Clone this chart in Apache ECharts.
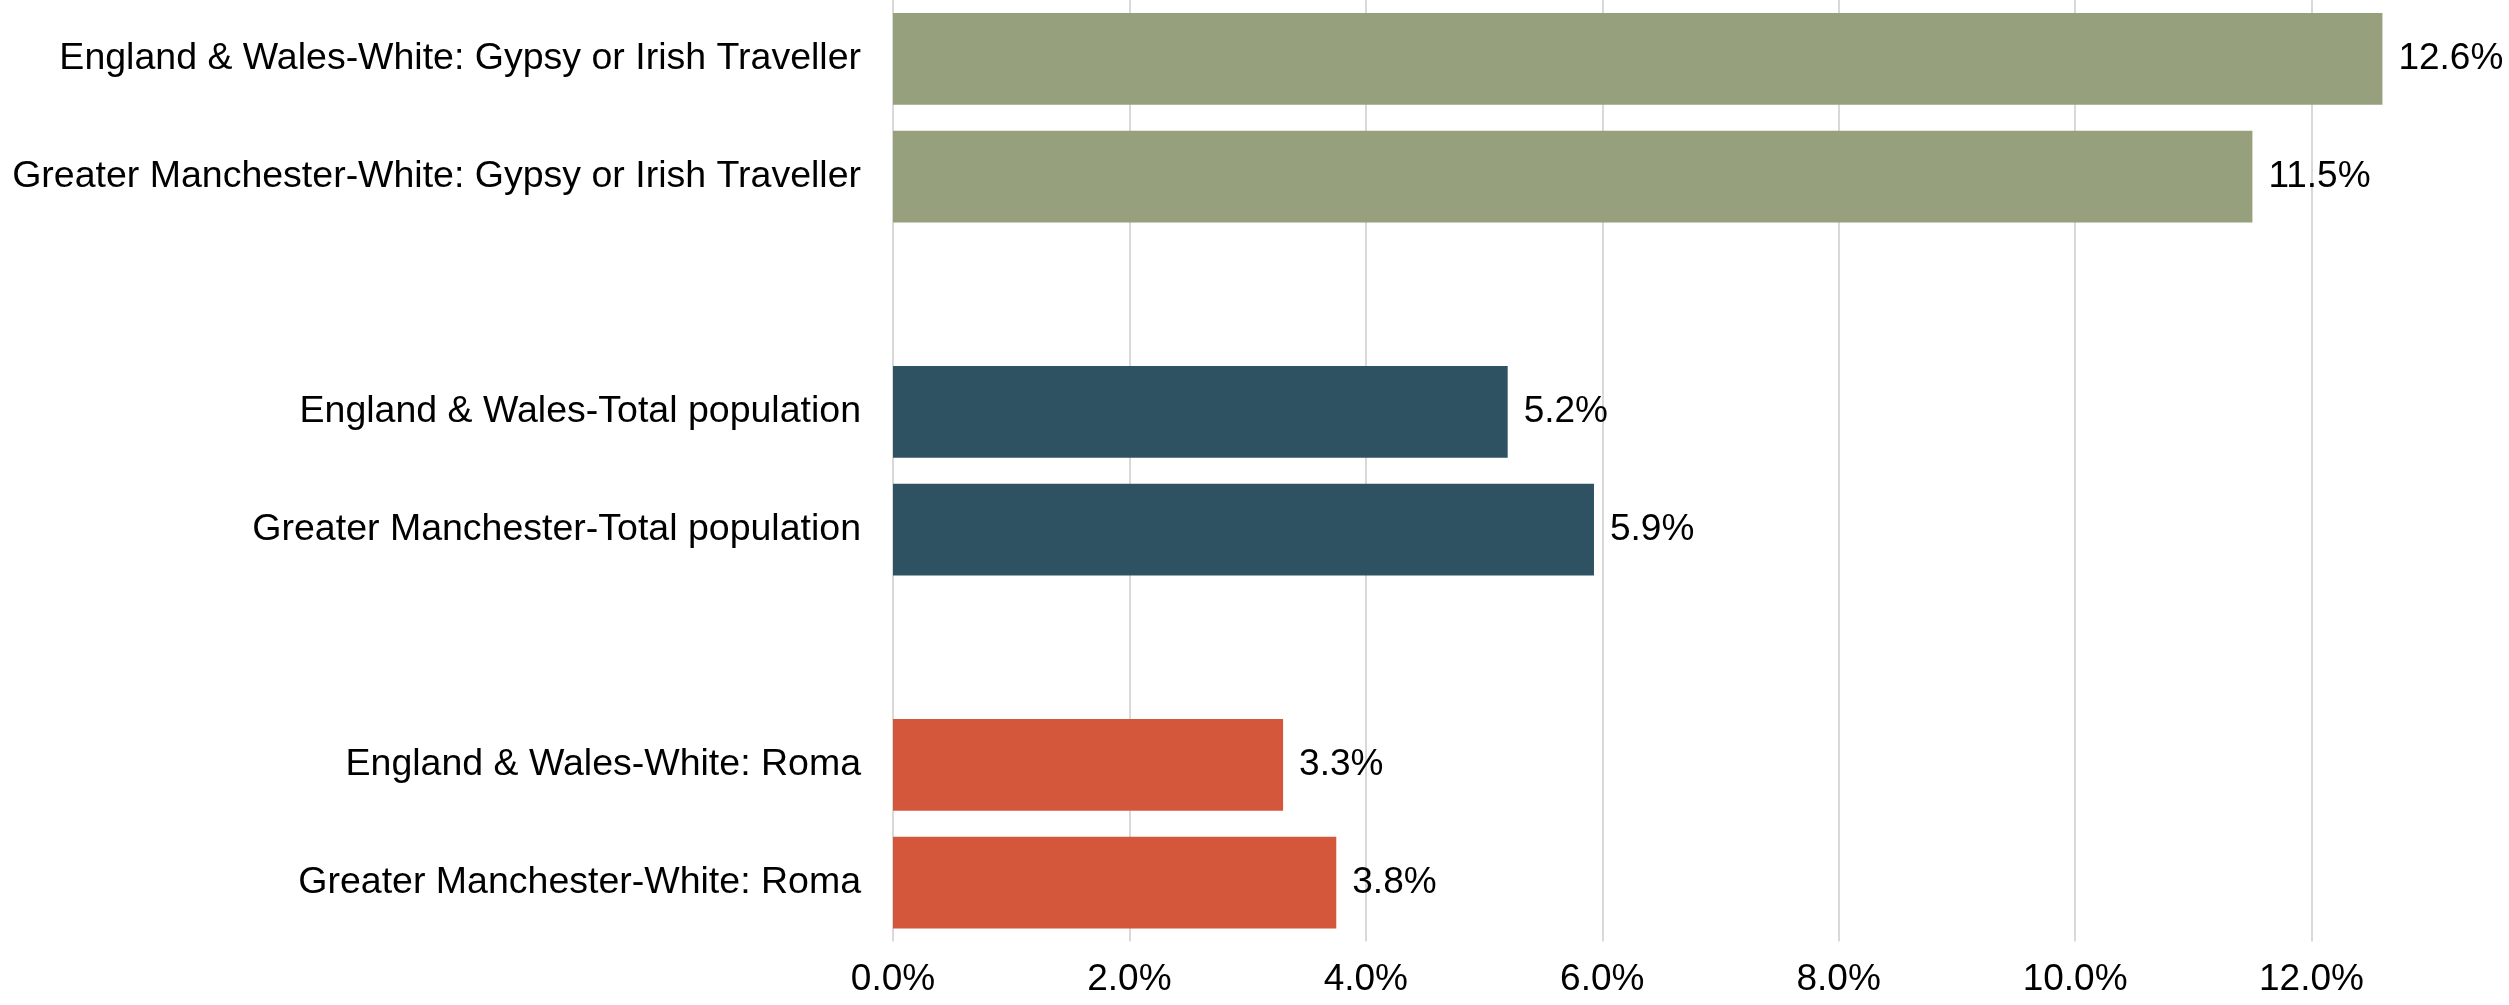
<!DOCTYPE html>
<html>
<head>
<meta charset="utf-8">
<script src="https://cdn.jsdelivr.net/npm/echarts@6/dist/echarts.min.js"></script>
<style>
html,body{margin:0;padding:0;background:#fff;}
#chart{width:2509px;height:1005px;}
</style>
</head>
<body>
<div id="chart"></div>
<script>
// Categories (top to bottom); blank entries are the gaps between groups
var categories = [
  'England & Wales-White: Gypsy or Irish Traveller',
  'Greater Manchester-White: Gypsy or Irish Traveller',
  ' ',
  'England & Wales-Total population',
  'Greater Manchester-Total population',
  '  ',
  'England & Wales-White: Roma',
  'Greater Manchester-White: Roma'
];
var values = [12.6, 11.5, null, 5.2, 5.93, null, 3.3, 3.75];
var groups = [0, 0, -1, 1, 1, -1, 2, 2];
var groupColors = ['#96A07D', '#2E5262', '#D4573C'];
var xTicks = [0, 2, 4, 6, 8, 10, 12];

var FONT = 'Liberation Sans, Arial, sans-serif';
var FS = 37;

var chart = echarts.init(document.getElementById('chart'), null, {renderer: 'canvas'});
chart.setOption({
  animation: false,
  backgroundColor: '#ffffff',
  grid: {left: 893, right: 197.5, top: -3.5, bottom: 63.5, containLabel: false},
  xAxis: {
    type: 'value',
    min: xTicks[0],
    max: xTicks[xTicks.length - 1],
    interval: 2,
    axisLine: {show: false},
    axisTick: {show: false},
    splitLine: {show: true, lineStyle: {color: '#D9D9D9', width: 2}},
    axisLabel: {
      margin: 20,
      fontFamily: FONT, fontSize: FS, color: '#000',
      formatter: function (v) { return v.toFixed(1) + '%'; }
    }
  },
  yAxis: {
    type: 'category',
    inverse: true,
    data: categories,
    axisLine: {show: false},
    axisTick: {show: false},
    splitLine: {show: false},
    axisLabel: {margin: 32, fontFamily: FONT, fontSize: 37.5, color: '#000'}
  },
  series: [{
    type: 'bar',
    clip: false,
    barCategoryGap: '22%',
    data: values.map(function (v, i) {
      return {value: v, itemStyle: {color: groups[i] >= 0 ? groupColors[groups[i]] : 'transparent'}};
    }),
    label: {
      show: true,
      position: 'right',
      distance: 16,
      fontFamily: FONT, fontSize: FS, color: '#000',
      formatter: function (p) { return p.value == null ? '' : p.value.toFixed(1) + '%'; }
    }
  }]
});
</script>
</body>
</html>
